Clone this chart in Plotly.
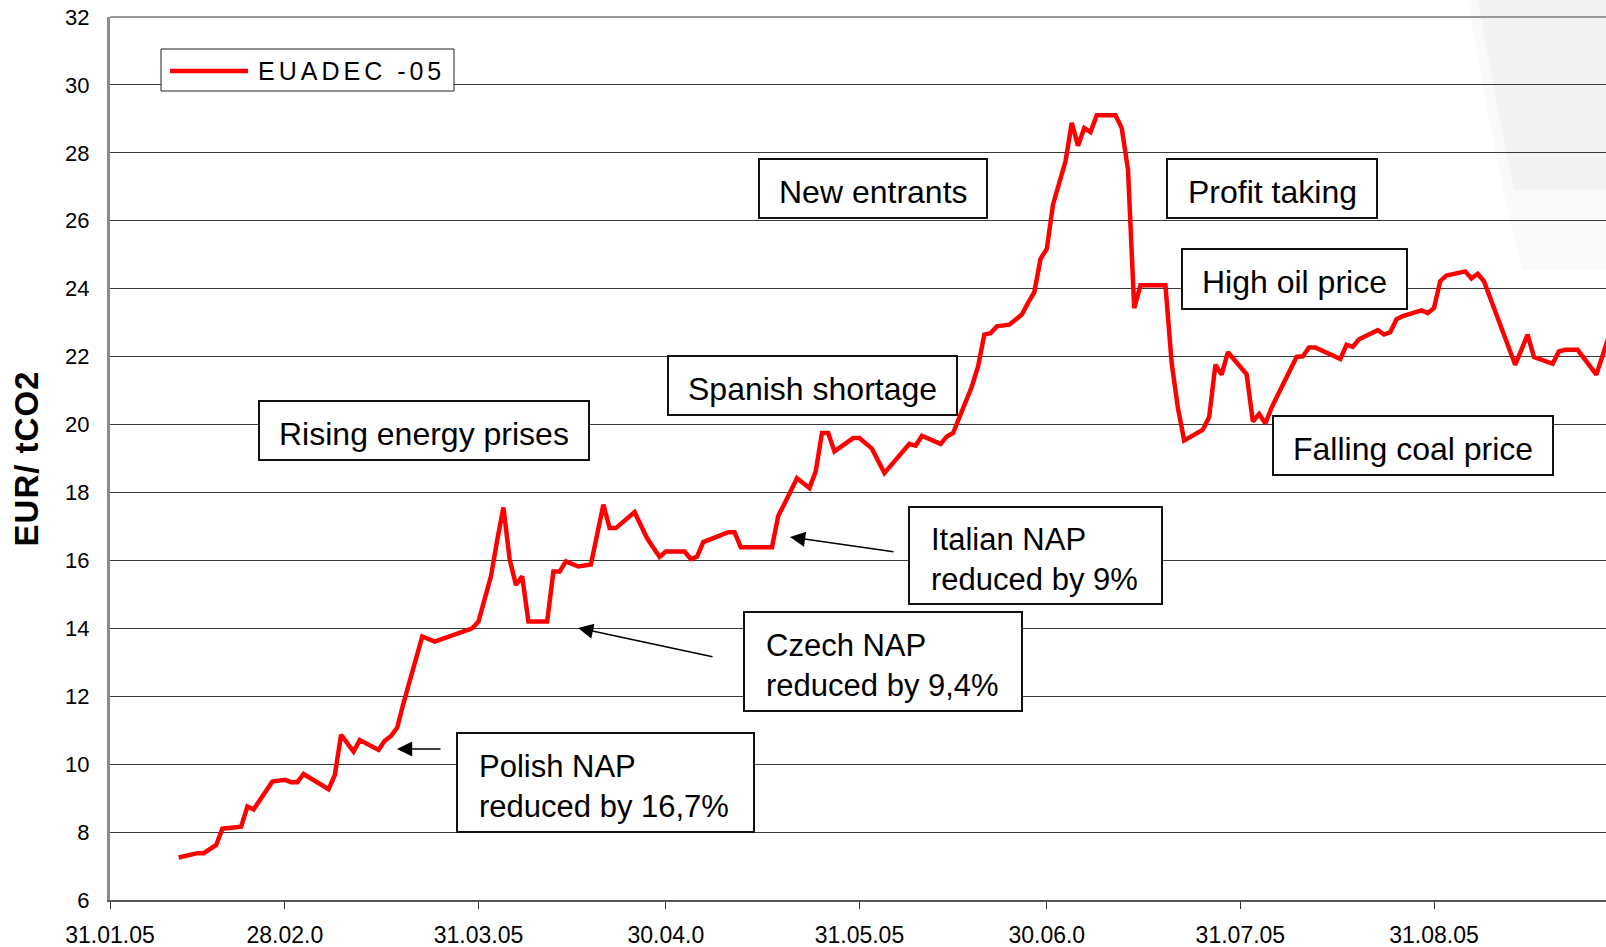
import plotly.graph_objects as go

# EUA Dec-05 price, EUR/tCO2
dates = [
    "2005-02-11", "2005-02-14", "2005-02-15", "2005-02-17", "2005-02-18",
    "2005-02-21", "2005-02-22", "2005-02-23", "2005-02-26", "2005-02-28",
    "2005-03-01", "2005-03-02", "2005-03-03", "2005-03-07", "2005-03-08",
    "2005-03-09", "2005-03-11", "2005-03-12", "2005-03-15", "2005-03-16",
    "2005-03-17", "2005-03-18", "2005-03-19", "2005-03-22", "2005-03-24",
    "2005-03-30", "2005-03-31",
    "2005-04-02", "2005-04-03", "2005-04-04", "2005-04-05", "2005-04-06",
    "2005-04-07", "2005-04-08", "2005-04-11", "2005-04-12", "2005-04-13",
    "2005-04-14", "2005-04-16", "2005-04-18", "2005-04-20", "2005-04-21",
    "2005-04-22", "2005-04-25", "2005-04-27", "2005-04-29", "2005-04-30",
    "2005-05-03", "2005-05-04", "2005-05-05", "2005-05-06", "2005-05-10",
    "2005-05-11", "2005-05-12", "2005-05-17", "2005-05-18", "2005-05-19",
    "2005-05-21", "2005-05-23", "2005-05-24", "2005-05-25", "2005-05-26",
    "2005-05-27", "2005-05-30", "2005-05-31",
    "2005-06-02", "2005-06-04", "2005-06-06", "2005-06-08", "2005-06-09",
    "2005-06-10", "2005-06-13", "2005-06-14", "2005-06-15", "2005-06-16",
    "2005-06-18", "2005-06-19", "2005-06-20", "2005-06-21", "2005-06-22",
    "2005-06-24", "2005-06-26", "2005-06-27", "2005-06-28", "2005-06-29",
    "2005-06-30",
    "2005-07-01", "2005-07-03", "2005-07-04", "2005-07-05", "2005-07-06",
    "2005-07-07", "2005-07-08", "2005-07-11", "2005-07-12", "2005-07-13",
    "2005-07-14", "2005-07-15", "2005-07-19", "2005-07-20", "2005-07-21",
    "2005-07-22", "2005-07-25", "2005-07-26", "2005-07-27", "2005-07-28",
    "2005-07-29",
    "2005-08-01", "2005-08-02", "2005-08-03", "2005-08-04", "2005-08-05",
    "2005-08-09", "2005-08-10", "2005-08-11", "2005-08-12", "2005-08-16",
    "2005-08-17", "2005-08-18", "2005-08-19", "2005-08-22", "2005-08-23",
    "2005-08-24", "2005-08-25", "2005-08-26", "2005-08-29", "2005-08-30",
    "2005-08-31",
    "2005-09-01", "2005-09-02", "2005-09-05", "2005-09-06", "2005-09-07",
    "2005-09-08", "2005-09-13", "2005-09-15", "2005-09-16", "2005-09-19",
    "2005-09-20", "2005-09-21", "2005-09-23", "2005-09-26", "2005-09-28",
]
prices = [
    7.25, 7.38, 7.38, 7.62, 8.10, 8.16, 8.75, 8.67, 9.49, 9.54,
    9.47, 9.47, 9.71, 9.26, 9.68, 10.86, 10.37, 10.71, 10.42, 10.69,
    10.83, 11.08, 11.80, 13.76, 13.61, 14.00, 14.20,
    15.53, 16.60, 17.56, 16.02, 15.28, 15.53, 14.20, 14.20, 15.67, 15.67,
    15.97, 15.82, 15.88, 17.64, 16.95, 16.95, 17.42, 16.65, 16.10, 16.26,
    16.26, 16.04, 16.11, 16.54, 16.83, 16.83, 16.39, 16.39, 17.31, 17.67,
    18.42, 18.13, 18.62, 19.75, 19.75, 19.21, 19.60, 19.60,
    19.29, 18.57, 18.99, 19.43, 19.38, 19.67, 19.43, 19.65, 19.75, 20.19,
    21.12, 21.71, 22.65, 22.69, 22.89, 22.94, 23.24, 23.58, 23.90, 24.88,
    25.17,
    26.48, 27.75, 28.88, 28.21, 28.73, 28.61, 29.11, 29.11, 28.73, 27.51,
    23.43, 24.10, 24.10, 21.81, 20.48, 19.53, 19.85, 20.22, 21.76, 21.47,
    22.13,
    21.48, 20.09, 20.31, 20.03, 20.50, 21.99, 22.01, 22.27, 22.27, 21.93,
    22.35, 22.29, 22.51, 22.78, 22.65, 22.72, 23.10, 23.19, 23.36, 23.28,
    23.43,
    24.22, 24.39, 24.51, 24.30, 24.44, 24.22, 21.76, 22.65, 21.99, 21.79,
    22.15, 22.20, 22.20, 21.47, 22.60,
]

tick_dates = ["2005-01-31", "2005-02-28", "2005-03-31", "2005-04-30",
              "2005-05-31", "2005-06-30", "2005-07-31", "2005-08-31"]
tick_labels = ["31.01.05", "28.02.0", "31.03.05", "30.04.0",
               "31.05.05", "30.06.0", "31.07.05", "31.08.05"]

series_name = "EUADEC -05"
events = ["Rising energy prises", "Spanish shortage", "New entrants",
          "Profit taking", "High oil price", "Falling coal price"]
nap_notes = ["Italian NAP<br>reduced by 9%", "Czech NAP<br>reduced by 9,4%",
             "Polish NAP<br>reduced by 16,7%"]

# page geometry (pixels)
W, H = 1606, 947
L, T, B = 110, 17, 47            # plot area edges
PW, PH = W - L, H - T - B
FONT = "Liberation Sans, Arial, sans-serif"


def fx(x):
    return (x - L) / PW


def fy(y):
    return (H - B - y) / PH


event_boxes = [(259, 401, 589, 460), (668, 356, 957, 415), (759, 159, 987, 218),
               (1167, 159, 1377, 218), (1182, 249, 1407, 309), (1273, 416, 1553, 475)]
nap_boxes = [(909, 507, 1162, 604), (744, 612, 1022, 711), (457, 733, 754, 832)]
nap_arrows = [((790, 537), (895, 552)), ((578, 628), (714, 657)), ((397, 749), (442, 749))]

fig = go.Figure()

fig.add_trace(go.Scatter(
    x=dates, y=prices, mode="lines", name=series_name, showlegend=False,
    line=dict(color="#ff0000", width=4.5)
))

shapes = []
annotations = []

# faint background swoosh, top right
shapes.append(dict(
    type="path", xref="paper", yref="paper", layer="below", line_width=0,
    fillcolor="#fafafa",
    path=f"M{fx(1468)},{fy(0)} Q{fx(1490)},{fy(140)} {fx(1522)},{fy(270)} "
         f"L{fx(1606)},{fy(270)} L{fx(1606)},{fy(0)} Z"))
shapes.append(dict(
    type="path", xref="paper", yref="paper", layer="below", line_width=0,
    fillcolor="#f3f3f3",
    path=f"M{fx(1478)},{fy(0)} Q{fx(1494)},{fy(95)} {fx(1514)},{fy(190)} "
         f"L{fx(1606)},{fy(190)} L{fx(1606)},{fy(0)} Z"))

# top border of the plot area
shapes.append(dict(type="line", xref="paper", yref="paper", x0=0, x1=1, y0=1, y1=1,
                   line=dict(color="#999999", width=2)))

# legend
shapes.append(dict(type="rect", xref="paper", yref="paper",
                   x0=fx(161), x1=fx(454), y0=fy(91), y1=fy(49),
                   fillcolor="white", line=dict(color="#222222", width=1)))
shapes.append(dict(type="line", xref="paper", yref="paper",
                   x0=fx(170), x1=fx(248), y0=fy(71), y1=fy(71),
                   line=dict(color="#ff0000", width=4.5)))
annotations.append(dict(
    xref="paper", yref="paper", x=fx(256), y=fy(71), xanchor="left", yanchor="middle",
    text=f"<span style='letter-spacing:4px'>{series_name}</span>", showarrow=False,
    font=dict(family=FONT, size=25, color="black")))

# event boxes (text sits ~3px below the box centre)
for text, (x0, y0, x1, y1) in zip(events, event_boxes):
    shapes.append(dict(type="rect", xref="paper", yref="paper",
                       x0=fx(x0), x1=fx(x1), y0=fy(y1), y1=fy(y0),
                       fillcolor="white", line=dict(color="#111111", width=2)))
    annotations.append(dict(
        xref="paper", yref="paper", x=fx((x0 + x1) / 2), y=fy((y0 + y1) / 2 + 3),
        xanchor="center", yanchor="middle", text=text, showarrow=False,
        font=dict(family=FONT, size=32, color="black")))

for text, (x0, y0, x1, y1) in zip(nap_notes, nap_boxes):
    shapes.append(dict(type="rect", xref="paper", yref="paper",
                       x0=fx(x0), x1=fx(x1), y0=fy(y1), y1=fy(y0),
                       fillcolor="white", line=dict(color="#111111", width=2)))
    annotations.append(dict(
        xref="paper", yref="paper", x=fx(x0 + 20), y=fy((y0 + y1) / 2 + 4),
        xanchor="left", yanchor="middle", align="left", text=text, showarrow=False,
        font=dict(family=FONT, size=31, color="black")))

for (hx, hy), (tx, ty) in nap_arrows:
    annotations.append(dict(
        xref="paper", yref="paper", x=fx(hx), y=fy(hy), ax=tx - hx, ay=ty - hy,
        text="", showarrow=True, arrowhead=2, arrowsize=1.9, arrowwidth=1.6,
        arrowcolor="black", standoff=0))

fig.update_layout(
    width=W, height=H,
    margin=dict(l=L, r=0, t=T, b=B),
    paper_bgcolor="white",
    plot_bgcolor="rgba(0,0,0,0)",
    shapes=shapes,
    annotations=annotations,
    font=dict(family=FONT, color="black"),
)

fig.update_xaxes(
    type="date",
    range=["2005-01-31", "2005-09-27 13:00"],
    tickmode="array", tickvals=tick_dates, ticktext=tick_labels,
    ticks="outside", ticklen=7, tickwidth=1, tickcolor="#333333",
    tickfont=dict(size=23, color="black"),
    ticklabelstandoff=6, ticklabeloverflow="allow",
    automargin=False,
    showgrid=False, zeroline=False,
    showline=True, linecolor="#555555", linewidth=2,
)

fig.update_yaxes(
    range=[6, 32], dtick=2, tick0=6,
    ticks="", tickfont=dict(size=22, color="black"),
    ticklabelstandoff=13, ticklabeloverflow="allow",
    automargin=False,
    showgrid=True, gridcolor="#3a3a3a", gridwidth=1,
    zeroline=False,
    showline=True, linecolor="#8c8c8c", linewidth=3,
    title=dict(text="<span style='letter-spacing:1px'>EUR/ tCO2</span>",
               font=dict(size=33, weight="bold", color="black"),
               standoff=17),
)

# drop the default page margin so the figure fills the window exactly
fig.write_html("out.html",
               config={"displayModeBar": False},
               post_script="document.body.style.margin='0';"
                           "document.body.style.overflow='hidden';")
